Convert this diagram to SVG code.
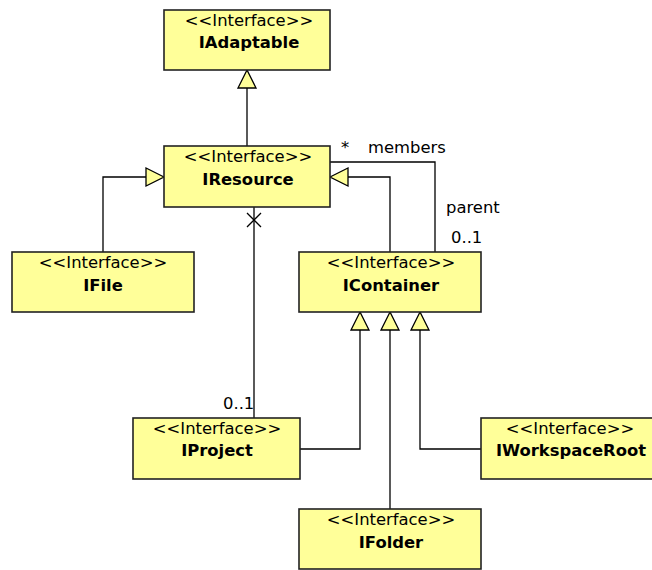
<svg xmlns="http://www.w3.org/2000/svg" width="652" height="570" viewBox="0 0 652 570">
<style>
.box{fill:#ffff99;stroke:#222;stroke-width:1.6}
.st{font-family:"DejaVu Sans",sans-serif;font-size:16.4px;text-anchor:middle;fill:#000}
.nm{font-family:"DejaVu Sans",sans-serif;font-size:16.4px;font-weight:bold;text-anchor:middle;fill:#000}
.lbl{font-family:"DejaVu Sans",sans-serif;font-size:16.4px;fill:#000}
.ln{fill:none;stroke:#000;stroke-width:1.3}
.tri{fill:#ffff99;stroke:#000;stroke-width:1.3}
</style>
<rect width="652" height="570" fill="#fff"/>
<g id="connectors">
  <path class="ln" d="M247 146 V88"/>
  <path class="tri" d="M247 70 L238 88 L256 88 Z"/>
  <path class="ln" d="M103 252 V177 H146"/>
  <path class="tri" d="M164 177 L146 168 L146 186 Z"/>
  <path class="ln" d="M390 252 V177 H348"/>
  <path class="tri" d="M330 177 L348 168 L348 186 Z"/>
  <path class="ln" d="M330 162 H435 V252"/>
  <text class="lbl" x="341" y="153">*</text>
  <text class="lbl" x="368" y="153">members</text>
  <text class="lbl" x="446" y="213">parent</text>
  <text class="lbl" x="451" y="243">0..1</text>
  <path class="ln" d="M254 207 V418"/>
  <path class="ln" d="M247 213 L261 227 M261 213 L247 227"/>
  <text class="lbl" x="223" y="409">0..1</text>
  <path class="ln" d="M300 449 H360 V330"/>
  <path class="tri" d="M360 312 L351 330 L369 330 Z"/>
  <path class="ln" d="M390 509 V330"/>
  <path class="tri" d="M390 312 L381 330 L399 330 Z"/>
  <path class="ln" d="M481 449 H420 V330"/>
  <path class="tri" d="M420 312 L411 330 L429 330 Z"/>
</g>
<g id="IAdaptable">
  <rect class="box" x="164" y="10" width="166" height="60"/>
  <text class="st" x="249" y="26">&lt;&lt;Interface&gt;&gt;</text>
  <text class="nm" x="249" y="48">IAdaptable</text>
</g>
<g id="IResource">
  <rect class="box" x="164" y="146" width="166" height="61"/>
  <text class="st" x="248" y="162">&lt;&lt;Interface&gt;&gt;</text>
  <text class="nm" x="248" y="185">IResource</text>
</g>
<g id="IFile">
  <rect class="box" x="12" y="252" width="182" height="60"/>
  <text class="st" x="103" y="268">&lt;&lt;Interface&gt;&gt;</text>
  <text class="nm" x="103" y="291">IFile</text>
</g>
<g id="IContainer">
  <rect class="box" x="299" y="252" width="182" height="60"/>
  <text class="st" x="391" y="268">&lt;&lt;Interface&gt;&gt;</text>
  <text class="nm" x="391" y="291">IContainer</text>
</g>
<g id="IProject">
  <rect class="box" x="133" y="418" width="167" height="61"/>
  <text class="st" x="217" y="434">&lt;&lt;Interface&gt;&gt;</text>
  <text class="nm" x="217" y="456">IProject</text>
</g>
<g id="IWorkspaceRoot">
  <rect class="box" x="481" y="418" width="177" height="61"/>
  <text class="st" x="570" y="434">&lt;&lt;Interface&gt;&gt;</text>
  <text class="nm" x="571" y="456">IWorkspaceRoot</text>
</g>
<g id="IFolder">
  <rect class="box" x="299" y="509" width="182" height="60"/>
  <text class="st" x="391" y="525">&lt;&lt;Interface&gt;&gt;</text>
  <text class="nm" x="391" y="548">IFolder</text>
</g>
</svg>
